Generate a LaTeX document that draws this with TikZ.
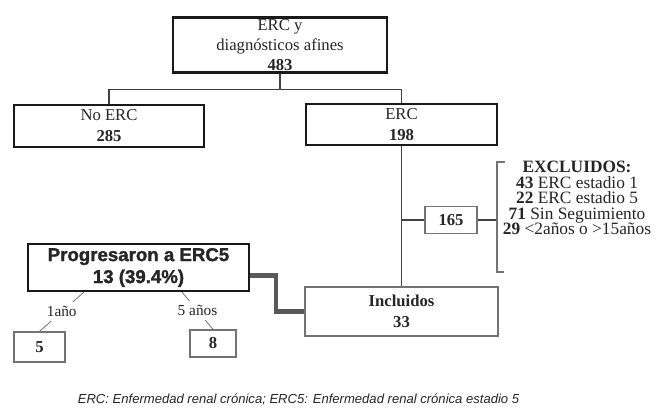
\documentclass[tikz,border=0pt]{standalone}
\usepackage{fontspec}
\setmainfont{Liberation Serif}
\newfontfamily\arialfont{Liberation Sans}[BoldFeatures={FakeBold=1.5}]
\usetikzlibrary{calc}

\begin{document}
\begin{tikzpicture}[
    x=0.75pt, y=-0.75pt,
    every node/.style={text=black!85},
    box/.style={rectangle, draw=black!90, line width=1.6pt, inner sep=0pt, align=center, font=\fontsize{12.5}{15.75}\selectfont},
    graybox/.style={rectangle, draw=black!55, line width=0.9pt, inner sep=0pt, align=center, font=\fontsize{12.5}{15.75}\selectfont\bfseries},
    conn/.style={draw=black!75, line width=1.3pt},
    thickconn/.style={draw=black!65, line width=3.2pt},
    tick/.style={draw=black!55, line width=0.6pt},
    yearlabel/.style={fill=white, inner sep=3pt, font=\fontsize{11.5}{12}\selectfont}
]

\path[fill=white] (0,0) rectangle (659,407);

% Boxes
\node[box, minimum width=160.5pt, minimum height=41.25pt, font=\fontsize{12.5}{15}\selectfont] (total) at (280,45) {ERC y\\diagnósticos afines\\\textbf{483}};
\node[box, minimum width=142.5pt, minimum height=31.5pt] (noerc) at (109,126) {No ERC\\\textbf{285}};
\node[box, minimum width=143.25pt, minimum height=30.75pt] (erc) at (401.5,124.5) {ERC\\\textbf{198}};
\node[graybox, minimum width=39pt, minimum height=20.25pt] (excl) at (451,220) {165};
\node[graybox, minimum width=144.75pt, minimum height=36.75pt] (incl) at (401.5,311.5) {Incluidos\\33};
\node[box, minimum width=165.75pt, minimum height=35.25pt, font=\arialfont\bfseries\fontsize{14}{16.5}\selectfont] (prog) at (138.5,267.5) {Progresaron a ERC5\\13 (39.4\%)};
\node[graybox, minimum width=38.25pt, minimum height=22.5pt] (yr1) at (39.5,347) {5};
\node[graybox, minimum width=34.5pt, minimum height=20.25pt] (yr5) at (213,343.5) {8};

% Excluded list
\node[align=center, font=\fontsize{13}{11.6}\selectfont] (reasons) at (577,198) {\textbf{EXCLUIDOS:}\\\textbf{43} ERC estadio 1\\\textbf{22} ERC estadio 5\\\textbf{71} Sin Seguimiento\\\textbf{29} <2años o >15años};
\coordinate (brtop) at (497,162);
\coordinate (brbot) at (497,272);

% Footnote
\node[font=\arialfont\itshape\fontsize{9.8}{11}\selectfont] (note) at (298.5,400) {ERC: Enfermedad renal crónica; ERC5: Enfermedad renal crónica estadio 5};

% Lines
\draw[conn] (total.south) -- ++(0,16) -| (noerc.north);
\draw[conn] (total.south) -- ++(0,16) -| (erc.north);
\draw[conn] (erc.south) -- (incl.north);
\draw[conn] (erc.south |- excl.west) -- (excl.west);
\draw[conn] (excl.east) -- (excl.east -| brtop);
\draw[tick, line width=0.9pt] ([xshift=6pt]brtop) -- (brtop) -- (brbot) -- ([xshift=5pt]brbot);
\draw[thickconn] ([yshift=-6pt]prog.east) -- ++(26,0) |- (incl.west);
\draw[tick] ($(prog.south)+(-54.5,0)$) -- node[yearlabel] {1año} (yr1.north);
\draw[tick] ($(prog.south)+(43.5,0)$) -- node[yearlabel] {5 años} (yr5.north);

\end{tikzpicture}
\end{document}
